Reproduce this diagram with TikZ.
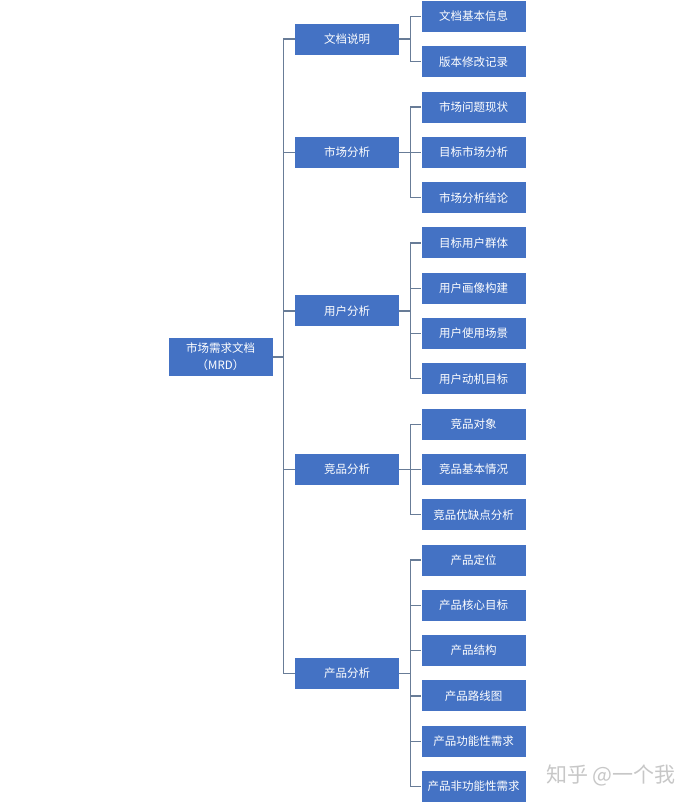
\documentclass[tikz,border=0pt]{standalone}
\usepackage{fontspec}
\setmainfont{Noto Sans CJK SC}
\usetikzlibrary{calc}
\definecolor{boxblue}{HTML}{4472C4}
\definecolor{linkgray}{HTML}{687C97}

\begin{document}
\begin{tikzpicture}[x=1pt, y=-1pt,
    box/.style={fill=boxblue, text=white, inner sep=0pt,
      minimum width=104pt, minimum height=31pt,
      font=\fontsize{11.5}{17}\selectfont},
    link/.style={linkgray, line width=1.2pt}]
    \useasboundingbox (0,0) rectangle (693,804);% Keeps the page size

    \coordinate (LevelOne) at (347,0);
    \coordinate (LevelTwo) at (473.5,0);

    \node[box, minimum height=38pt, align=center] (MRD) at (220.5,357)
      {市场需求文档\\（MRD）};

    \node[box] (Doc)     at (LevelOne |- 0,39)    {文档说明};
    \node[box] (Market)  at (LevelOne |- 0,152.4) {市场分析};
    \node[box] (User)    at (LevelOne |- 0,310.9) {用户分析};
    \node[box] (Rival)   at (LevelOne |- 0,469.4) {竞品分析};
    \node[box] (Product) at (LevelOne |- 0,673.4) {产品分析};

    \foreach \n in {Doc,Market,User,Rival,Product}{% Trunk to each branch
      \draw[link] (MRD.east) -- ++(11,0) |- (\n.west);
    }

    % Leaves: name / row / parent / text
    \foreach \n/\r/\p/\t in {
        DocA/0/Doc/文档基本信息, DocB/1/Doc/版本修改记录,
        MarketA/2/Market/市场问题现状, MarketB/3/Market/目标市场分析,
        MarketC/4/Market/市场分析结论,
        UserA/5/User/目标用户群体, UserB/6/User/用户画像构建,
        UserC/7/User/用户使用场景, UserD/8/User/用户动机目标,
        RivalA/9/Rival/竞品对象, RivalB/10/Rival/竞品基本情况,
        RivalC/11/Rival/竞品优缺点分析,
        ProductA/12/Product/产品定位, ProductB/13/Product/产品核心目标,
        ProductC/14/Product/产品结构, ProductD/15/Product/产品路线图,
        ProductE/16/Product/产品功能性需求, ProductF/17/Product/产品非功能性需求}{%
      \node[box] (\n) at ($(LevelTwo)+(0,16.4+45.3*\r)$) {\t};
      \draw[link] (\p.east) -- ++(11,0) |- (\n.west);
    }

    \node[text=black!22, font=\fontsize{21}{22}\selectfont] (Watermark)
      at (611,775) {知乎 @一个我};
\end{tikzpicture}
\end{document}
